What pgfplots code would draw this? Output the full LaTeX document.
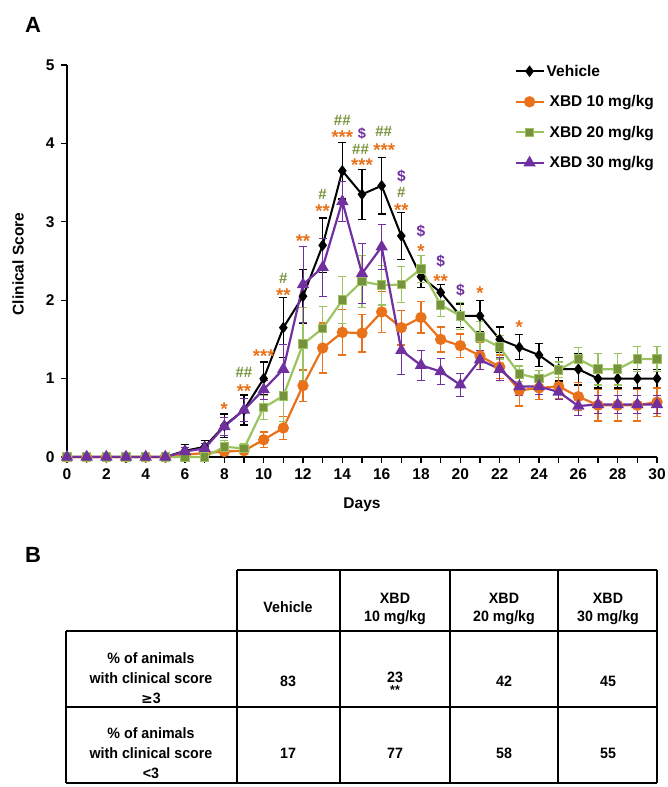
\documentclass[border=0pt]{standalone}
\usepackage{pgfplots}
\pgfplotsset{compat=1.18}
\usepackage{pgfplotstable}
\usepackage{fontspec}
\setmainfont{Liberation Sans}
\newfontfamily\narrowfont{Liberation Sans}[FakeStretch=0.95]
\newfontfamily\symfont{DejaVu Sans}
\definecolor{cOr}{RGB}{232,113,26}
\definecolor{cGl}{RGB}{155,195,95}
\definecolor{cGd}{RGB}{118,146,60}
\definecolor{cPu}{RGB}{112,48,160}

\pgfplotstableread{
x y e
0 0 0
1 0 0
2 0 0
3 0 0
4 0 0
5 0 0
6 0.08 0.08
7 0.13 0.08
8 0.40 0.15
9 0.60 0.19
10 1.00 0.21
11 1.65 0.38
12 2.05 0.34
13 2.70 0.35
14 3.65 0.36
15 3.35 0.32
16 3.46 0.36
17 2.82 0.30
18 2.30 0.14
19 2.10 0.10
20 1.80 0.15
21 1.80 0.20
22 1.50 0.16
23 1.40 0.16
24 1.30 0.15
25 1.12 0.15
26 1.12 0.20
27 1.00 0.12
28 1.00 0.12
29 1.00 0.12
30 1.00 0.12
}\veh
\pgfplotstableread{
x y e
0 0 0
1 0 0
2 0 0
3 0 0
4 0 0
5 0 0
6 0.03 0.03
7 0.05 0.04
8 0.07 0.05
9 0.08 0.05
10 0.22 0.10
11 0.37 0.15
12 0.91 0.20
13 1.39 0.32
14 1.59 0.29
15 1.58 0.24
16 1.85 0.26
17 1.65 0.22
18 1.78 0.20
19 1.50 0.16
20 1.42 0.15
21 1.29 0.17
22 1.15 0.15
23 0.85 0.20
24 0.88 0.15
25 0.90 0.15
26 0.77 0.18
27 0.66 0.20
28 0.66 0.20
29 0.66 0.20
30 0.70 0.18
}\xten
\pgfplotstableread{
x y e
0 0 0
1 0 0
2 0 0
3 0 0
4 0 0
5 0 0
6 0 0.02
7 0 0.02
8 0.13 0.08
9 0.11 0.06
10 0.63 0.15
11 0.78 0.33
12 1.44 0.47
13 1.64 0.28
14 2.00 0.30
15 2.24 0.33
16 2.19 0.25
17 2.20 0.23
18 2.40 0.17
19 1.94 0.15
20 1.80 0.17
21 1.53 0.20
22 1.40 0.15
23 1.06 0.10
24 1.00 0.10
25 1.11 0.10
26 1.25 0.15
27 1.12 0.20
28 1.12 0.20
29 1.25 0.16
30 1.25 0.16
}\xtwenty
\pgfplotstableread{
x y e
0 0 0
1 0 0
2 0 0
3 0 0
4 0 0
5 0 0
6 0.07 0.05
7 0.11 0.06
8 0.39 0.12
9 0.60 0.15
10 0.86 0.12
11 1.12 0.32
12 2.20 0.49
13 2.42 0.37
14 3.26 0.25
15 2.34 0.38
16 2.68 0.29
17 1.36 0.31
18 1.17 0.19
19 1.09 0.17
20 0.92 0.15
21 1.24 0.12
22 1.12 0.15
23 0.90 0.12
24 0.90 0.10
25 0.83 0.10
26 0.65 0.12
27 0.67 0.12
28 0.67 0.12
29 0.67 0.12
30 0.67 0.12
}\xthirty

\begin{document}
\begin{tikzpicture}[x=1pt,y=1pt]
\useasboundingbox (0,0) rectangle (667,787);
\begin{axis}[
  at={(67pt,330pt)}, anchor=south west,
  scale only axis, width=590pt, height=392pt,
  xmin=0, xmax=30, ymin=0, ymax=5,
  axis lines*=left,
  axis line style={line width=1.6pt},
  xtick={0,2,...,30}, minor xtick={1,3,...,29}, ytick={0,1,...,5},
  tick align=outside, major tick length=6pt, minor tick length=6pt,
  every tick/.style={line width=1.2pt, black},
  minor tick style={line width=1.2pt, black},
  /pgf/number format/assume math mode=true,
  ticklabel style={font=\bfseries\fontsize{15.5}{15.5}\selectfont},
  xticklabel style={yshift=-2pt},
  yticklabel style={xshift=-3pt},
  clip=false,
  legend style={at={(axis description cs:0.753,1.011)}, anchor=north west,
    draw=none, fill=none, font=\bfseries\fontsize{15.5}{15.5}\selectfont,
    row sep=13.8pt, cells={anchor=west}},
  legend image code/.code={\draw[mark repeat=2,mark phase=2,#1] plot coordinates {(0pt,0pt) (14pt,0pt) (28pt,0pt)};},
]
\addplot[black, line width=2pt, mark=diamond*, mark size=4.2pt, mark options={solid,fill=black},
  error bars/.cd, y dir=both, y explicit,
  error bar style={line width=1.3pt, black},
  error mark options={rotate=90, mark size=4pt, line width=1.3pt, black}]
  table[x=x, y=y, y error=e]{\veh};
\addlegendentry{Vehicle}
\addplot[cOr, line width=2.2pt, mark=*, mark size=4.5pt, mark options={solid,fill=cOr},
  error bars/.cd, y dir=both, y explicit,
  error bar style={line width=1.3pt, cOr},
  error mark options={rotate=90, mark size=4pt, line width=1.3pt, cOr}]
  table[x=x, y=y, y error=e]{\xten};
\addlegendentry{\hspace{3pt}XBD 10 mg/kg}
\addplot[cGl, line width=2.2pt, mark=square*, mark size=4.3pt, mark options={solid,fill=cGd,draw=cGl,line width=1pt},
  error bars/.cd, y dir=both, y explicit,
  error bar style={line width=1.3pt, cGl},
  error mark options={rotate=90, mark size=4pt, line width=1.3pt, cGl}]
  table[x=x, y=y, y error=e]{\xtwenty};
\addlegendentry{\hspace{3pt}XBD 20 mg/kg}
\addplot[cPu, line width=2.2pt, mark=triangle*, mark size=5pt, mark options={solid,fill=cPu},
  error bars/.cd, y dir=both, y explicit,
  error bar style={line width=0.9pt, cPu},
  error mark options={rotate=90, mark size=4pt, line width=0.9pt, cPu}]
  table[x=x, y=y, y error=e]{\xthirty};
\addlegendentry{\hspace{3pt}XBD 30 mg/kg}

% significance marks
\tikzset{st/.style={cOr, font=\bfseries\fontsize{18.5}{18.5}\selectfont, yshift=-4pt, inner sep=0pt},
         hs/.style={cGd, font=\bfseries\fontsize{15}{15}\selectfont, inner sep=0pt},
         dl/.style={cPu, font=\bfseries\fontsize{15.5}{15.5}\selectfont, inner sep=0pt}}
\node[st] at (axis cs:8,0.66) {*};
\node[hs] at (axis cs:9,1.08) {\#\#};
\node[st] at (axis cs:9,0.89) {**};
\node[st] at (axis cs:10,1.34) {***};
\node[hs] at (axis cs:11,2.28) {\#};
\node[st] at (axis cs:11,2.12) {**};
\node[st] at (axis cs:12,2.81) {**};
\node[hs] at (axis cs:13,3.35) {\#};
\node[st] at (axis cs:13,3.19) {**};
\node[hs] at (axis cs:14,4.29) {\#\#};
\node[st] at (axis cs:14,4.13) {***};
\node[dl, font=\bfseries\fontsize{14.5}{14.5}\selectfont] at (axis cs:15,4.13) {\$};
\node[hs, xshift=-1.5pt] at (axis cs:15,3.92) {\#\#};
\node[st] at (axis cs:15,3.77) {***};
\node[hs, xshift=2pt] at (axis cs:16,4.15) {\#\#};
\node[st, xshift=2.5pt] at (axis cs:16,3.96) {***};
\node[dl] at (axis cs:17,3.58) {\$};
\node[hs] at (axis cs:17,3.38) {\#};
\node[st] at (axis cs:17,3.20) {**};
\node[dl] at (axis cs:18,2.88) {\$};
\node[st] at (axis cs:18,2.68) {*};
\node[dl] at (axis cs:19,2.50) {\$};
\node[st] at (axis cs:19,2.30) {**};
\node[dl] at (axis cs:20,2.13) {\$};
\node[st] at (axis cs:21,2.14) {*};
\node[st] at (axis cs:23,1.71) {*};
\end{axis}

% labels
\node[font=\bfseries\fontsize{22}{22}\selectfont] at (33,762) {A};
\node[font=\bfseries\fontsize{22}{22}\selectfont] at (33,232) {B};
\node[font=\bfseries\fontsize{15.5}{15.5}\selectfont] at (362,282) {Days};
\node[font=\bfseries\fontsize{15.5}{15.5}\selectfont, rotate=90] at (18,523) {Clinical Score};

% table
\begin{scope}[line width=1.2pt]
\draw (237,217) -- (657,217);
\draw (66,156) -- (657,156);
\draw (66,80) -- (657,80);
\draw (66,4) -- (657,4);
\draw (66,156) -- (66,4);
\draw (237,217) -- (237,4);
\draw (340,217) -- (340,4);
\draw (450,217) -- (450,4);
\draw (558,217) -- (558,4);
\draw (657,217) -- (657,4);
\end{scope}
\tikzset{tc/.style={font=\narrowfont\bfseries\fontsize{15}{18}\selectfont, align=center, inner sep=0pt}}
\node[tc] at (288,180) {Vehicle};
\node[tc] at (395,178) {XBD\\10 mg/kg};
\node[tc] at (504,178) {XBD\\20 mg/kg};
\node[tc] at (608,178) {XBD\\30 mg/kg};
\node[tc, font=\narrowfont\bfseries\fontsize{15}{20}\selectfont] at (151,109) {\% of animals\\with clinical score\\{\symfont\bfseries\fontsize{14}{14}\selectfont ≥}3};
\node[tc, font=\narrowfont\bfseries\fontsize{15}{20}\selectfont] at (151,34) {\% of animals\\with clinical score\\<3};
\node[tc] at (288,106) {83};
\node[tc] at (395,110) {23};
\node[tc, font=\narrowfont\bfseries\fontsize{13}{13}\selectfont] at (395,97) {**};
\node[tc] at (504,106) {42};
\node[tc] at (608,106) {45};
\node[tc] at (288,34) {17};
\node[tc] at (395,34) {77};
\node[tc] at (504,34) {58};
\node[tc] at (608,34) {55};
\end{tikzpicture}
\end{document}
